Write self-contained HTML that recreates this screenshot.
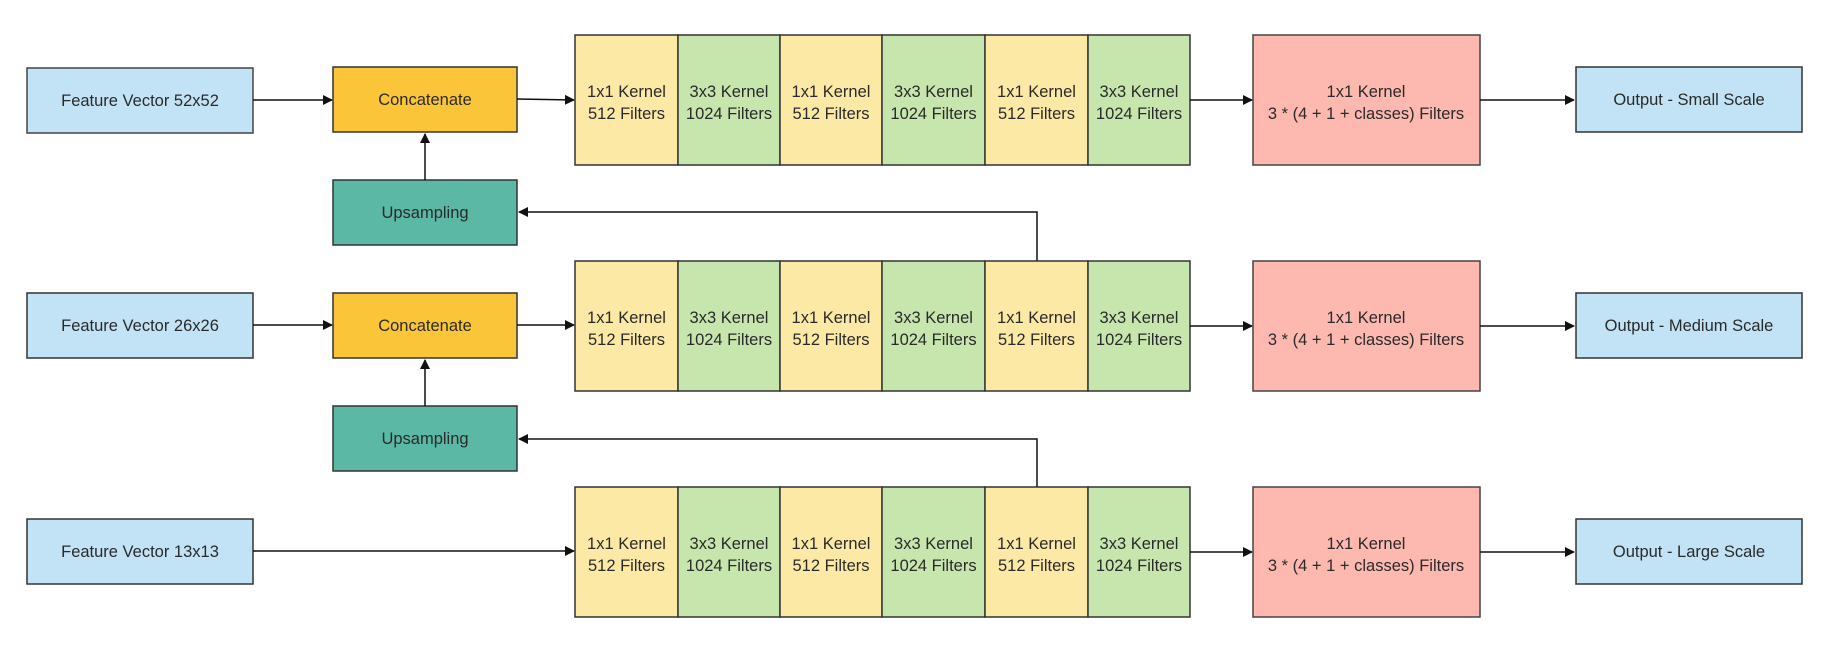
<!DOCTYPE html>
<html><head><meta charset="utf-8"><style>
html,body{margin:0;padding:0;background:#fff;}
svg{display:block}
text{font-family:"Liberation Sans",sans-serif;font-size:16.5px;fill:#2a2a2a;text-anchor:middle}
</style></head><body>
<svg width="1829" height="671" viewBox="0 0 1829 671" xmlns="http://www.w3.org/2000/svg">
<defs>
<marker id="a" markerWidth="10" markerHeight="10" refX="9" refY="5" orient="auto" markerUnits="userSpaceOnUse">
<path d="M0,0 L10,5 L0,10 z" fill="#111"/></marker>
</defs>
<g id="r1">
<rect x="27" y="68" width="226" height="65" fill="#c2e3f5" stroke="#444" stroke-width="1.5"/>
<text x="140" y="106">Feature Vector 52x52</text>
<rect x="333" y="67" width="184" height="65" fill="#fbc53a" stroke="#333" stroke-width="1.5"/>
<text x="425" y="105">Concatenate</text>
<line x1="253" y1="100" x2="332" y2="100" stroke="#111" stroke-width="1.5" marker-end="url(#a)"/>
<line x1="517" y1="99" x2="574" y2="100" stroke="#111" stroke-width="1.5" marker-end="url(#a)"/>
</g>
<g stroke="#333" stroke-width="1.5">
<rect x="333" y="180" width="184" height="65" fill="#5bb8a5"/>
<rect x="333" y="406" width="184" height="65" fill="#5bb8a5"/>
<rect x="333" y="293" width="184" height="65" fill="#fbc53a"/>
<rect x="27" y="293" width="226" height="65" fill="#c2e3f5"/>
<rect x="27" y="519" width="226" height="65" fill="#c2e3f5"/>
</g>
<text x="425" y="218">Upsampling</text>
<text x="425" y="444">Upsampling</text>
<text x="425" y="331">Concatenate</text>
<text x="140" y="331">Feature Vector 26x26</text>
<text x="140" y="557">Feature Vector 13x13</text>
<g stroke="#111" stroke-width="1.5" fill="none">
<line x1="425" y1="180" x2="425" y2="134" marker-end="url(#a)"/>
<line x1="425" y1="406" x2="425" y2="360" marker-end="url(#a)"/>
<line x1="253" y1="325" x2="332" y2="325" marker-end="url(#a)"/>
<line x1="517" y1="325" x2="574" y2="325" marker-end="url(#a)"/>
<line x1="253" y1="551" x2="574" y2="551" marker-end="url(#a)"/>
<polyline points="1037,261 1037,212 519,212" marker-end="url(#a)"/>
<polyline points="1037,487 1037,439 519,439" marker-end="url(#a)"/>
</g>
<!-- blocks -->
<g id="blocks">
</g>
<script>
(function(){
var ns="http://www.w3.org/2000/svg",svg=document.querySelector('svg');
var tops=[35,261,487];
function el(t,a,txt){var e=document.createElementNS(ns,t);for(var k in a)e.setAttribute(k,a[k]);if(txt)e.textContent=txt;svg.appendChild(e);return e;}
var outs=["Output - Small Scale","Output - Medium Scale","Output - Large Scale"];
tops.forEach(function(t,i){
 var xs=[575,678,780,882,985,1088,1190];
 for(var j=0;j<6;j++){
  el('rect',{x:xs[j],y:t,width:xs[j+1]-xs[j],height:130,fill:j%2?'#c6e6ae':'#fde9a6',stroke:'#333','stroke-width':1.5});
  var cx=(xs[j]+xs[j+1])/2;
  el('text',{x:cx,y:t+62},j%2?'3x3 Kernel':'1x1 Kernel');
  el('text',{x:cx,y:t+84},j%2?'1024 Filters':'512 Filters');
 }
 el('rect',{x:1253,y:t,width:227,height:130,fill:'#fdb9b0',stroke:'#444','stroke-width':1.5});
 el('text',{x:1366,y:t+62},'1x1 Kernel');
 el('text',{x:1366,y:t+84},'3 * (4 + 1 + classes) Filters');
 var my=t+65;
 el('line',{x1:1190,y1:my,x2:1252,y2:my,stroke:'#111','stroke-width':1.5,'marker-end':'url(#a)'});
 el('line',{x1:1480,y1:my,x2:1574,y2:my,stroke:'#111','stroke-width':1.5,'marker-end':'url(#a)'});
 el('rect',{x:1576,y:t+32,width:226,height:65,fill:'#c2e3f5',stroke:'#333','stroke-width':1.5});
 el('text',{x:1689,y:t+70},outs[i]);
});
})();
</script>
</svg>
</body></html>
